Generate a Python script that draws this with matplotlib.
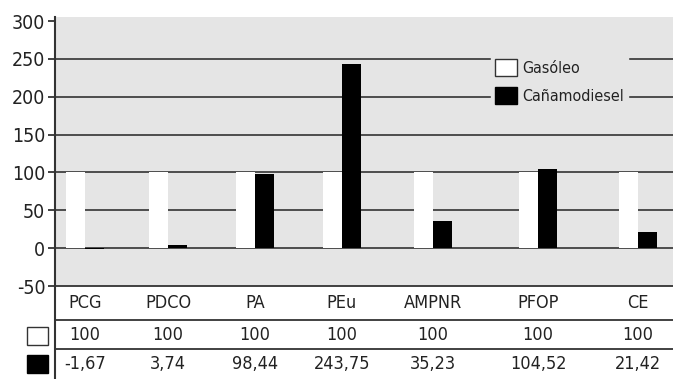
import numpy as np
import matplotlib
matplotlib.use("Agg")
import matplotlib.pyplot as plt
from matplotlib.lines import Line2D
from matplotlib.patches import Rectangle, Patch

categories = ["PCG", "PDCO", "PA", "PEu", "AMPNR", "PFOP", "CE"]
gasoleo = [100, 100, 100, 100, 100, 100, 100]
canamodiesel = [-1.67, 3.74, 98.44, 243.75, 35.23, 104.52, 21.42]
yticks = [-50, 0, 50, 100, 150, 200, 250, 300]

# layout (pixel units of the 673x379 picture)
W, H = 673, 379
col_x = np.array([85, 168, 255, 342, 433, 538, 638])
bar_w = 19
bg = "#e5e5e5"
dark = "#333333"


def fx(x):
    return x / W


def fy(y):
    return 1 - y / H


def fmt(v):
    if float(v).is_integer():
        return str(int(v))
    return f"{v:.2f}".replace(".", ",")


plt.rcParams['font.family'] = ['DejaVu Sans']
plt.rcParams['font.stretch'] = 'condensed'
plt.rcParams['axes.unicode_minus'] = False

fig = plt.figure(figsize=(6.73, 3.79), dpi=100)
ax = fig.add_axes([fx(55), fy(286), (W - 55) / W, (286 - 17) / H])
ax.set_facecolor(bg)
ax.set_xlim(55, W)
ax.set_ylim(-50, 305.3)

for v in yticks[1:-1]:
    ax.axhline(v, color=dark, lw=1.2, zorder=1)

ax.bar(col_x - bar_w / 2, gasoleo, width=bar_w, color="white", zorder=2)
ax.bar(col_x + bar_w / 2, canamodiesel, width=bar_w, color="black", zorder=2)

for s in ax.spines.values():
    s.set_visible(False)
ax.set_xticks([])
ax.set_yticks(yticks)
ax.set_yticklabels([str(t) for t in yticks])
ax.tick_params(axis="y", length=5, width=1.3, color=dark, pad=2,
               labelsize=14, labelcolor="#222222")

leg = ax.legend(handles=[Patch(facecolor="white", edgecolor=dark, lw=1),
                         Patch(facecolor="black", edgecolor="black")],
                labels=["Gasóleo", "Cañamodiesel"],
                loc="upper left", bbox_to_anchor=(fx(491), fy(55)),
                bbox_transform=fig.transFigure,
                fontsize=11.5, handlelength=1.4, handleheight=1.3,
                handletextpad=0.3, labelspacing=0.65, borderpad=0.25,
                borderaxespad=0, frameon=True, fancybox=False)
leg.get_frame().set_facecolor(bg)
leg.get_frame().set_edgecolor(bg)
leg.get_frame().set_alpha(1)
for t in leg.get_texts():
    t.set_color("#222222")

# axis line and table rules
fig.add_artist(Line2D([fx(55), fx(55)], [fy(17), fy(379)], color=dark, lw=1.5))
for y in [286, 320, 349]:
    fig.add_artist(Line2D([fx(55), fx(W)], [fy(y), fy(y)], color=dark, lw=1.3))

# table
for x, c, g, k in zip(col_x, categories, gasoleo, canamodiesel):
    fig.text(fx(x), fy(303), c, ha="center", va="center", fontsize=13, color="#222222")
    fig.text(fx(x), fy(335), fmt(g), ha="center", va="center", fontsize=13, color="#222222")
    fig.text(fx(x), fy(364), fmt(k), ha="center", va="center", fontsize=13, color="#222222")

fig.add_artist(Rectangle((fx(27), fy(345)), 21 / W, 18 / H, transform=fig.transFigure,
                         facecolor="white", edgecolor=dark, lw=1))
fig.add_artist(Rectangle((fx(27), fy(373)), 21 / W, 18 / H, transform=fig.transFigure,
                         facecolor="black", edgecolor="black", lw=1))

fig.savefig("out.png", dpi=100)
